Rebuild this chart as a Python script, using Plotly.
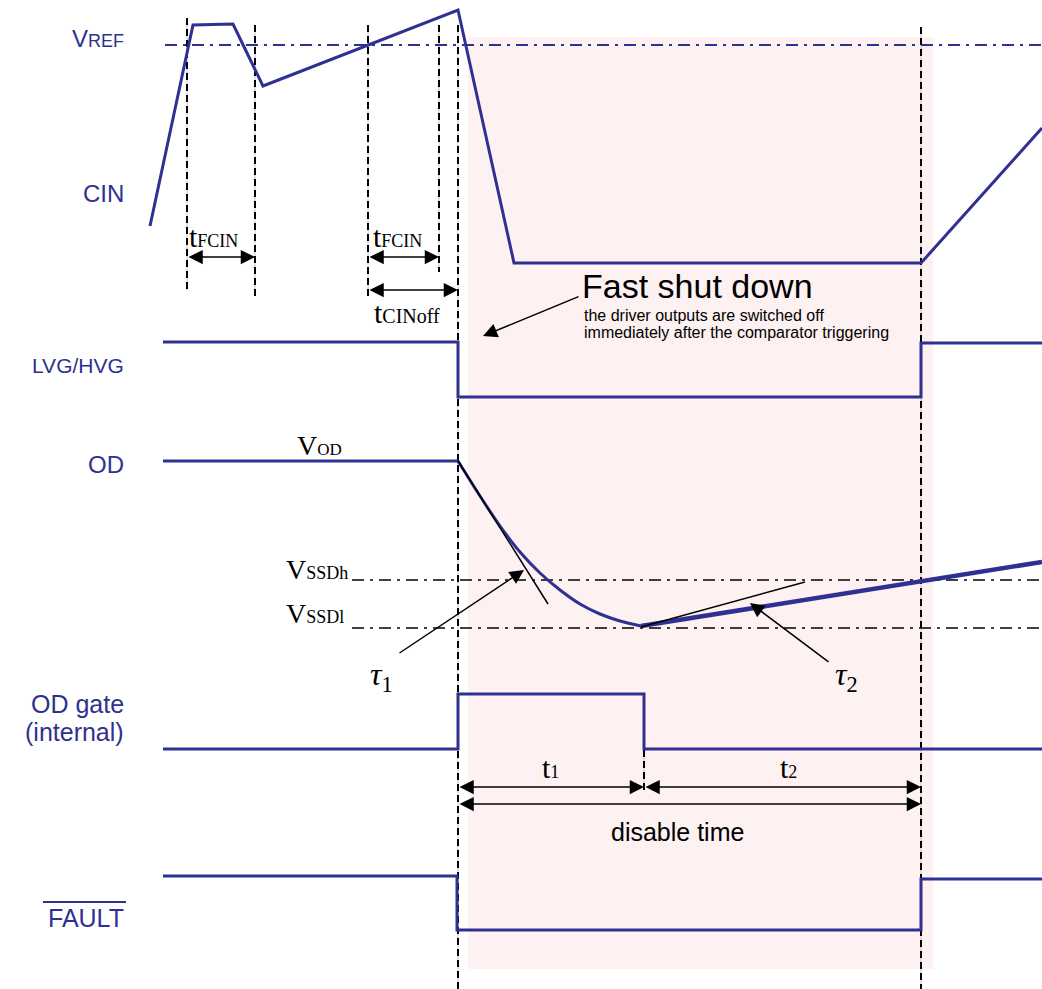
import plotly.graph_objects as go

# ---------------- data (diagram coordinates: x = time axis, y = level, screen units) -------------
BLUE = "#2e3192"

cin_t = [150, 193, 233, 263, 458, 514, 921, 1042]
cin_v = [226, 25, 24, 86, 10, 263, 263, 128]

vref_t = [165, 1042]
vref_v = [45, 45]

lvg_t = [163, 458, 458, 921, 921, 1042]
lvg_v = [342, 342, 397, 397, 343, 343]

od_flat_t = [163, 458]
od_flat_v = [461, 461]
od_fall_t = [458, 480, 500, 520, 540, 560, 580, 600, 620, 641]
od_fall_v = [461, 496, 526, 552, 573, 590, 604, 614, 621, 626]
od_rise_t = [641, 1042]
od_rise_v = [626, 562]

tau1_t = [458, 548]
tau1_v = [461, 604]
tau2_t = [641, 805]
tau2_v = [627, 582]

vssdh_t = [352, 1042]
vssdh_v = [580, 580]
vssdl_t = [352, 1042]
vssdl_v = [628, 628]

odgate_t = [163, 458, 458, 644, 644, 1042]
odgate_v = [749, 749, 694, 694, 749, 749]

fault_t = [163, 457, 457, 921, 921, 1042]
fault_v = [876, 876, 930, 930, 879, 879]

# dashed timing markers: (x, y_top, y_bottom)
marker_x = [187, 255, 368, 439, 458, 921, 644]
marker_top = [18, 25, 25, 25, 25, 27, 750]
marker_bot = [290, 296, 296, 272, 989, 989, 790]

# shaded disable window
shade_x = [468, 933]
shade_y = [37, 969]

# double-headed dimension arrows: (x_start, x_end, y)
dim_start = [187, 368, 368, 458, 644, 458]
dim_end = [255, 439, 458, 644, 921, 921]
dim_y = [257, 257, 290, 787, 787, 804]

# signal names
signal_names = ["V<span style='font-size:18px'>REF</span>", "CIN", "LVG/HVG", "OD",
                "OD gate", "(internal)", "FAULT"]
signal_y = [38, 193, 365, 464, 704, 732, 918]
signal_size = [24, 24, 21, 24, 25, 25, 25]

# ---------------- figure ----------------
fig = go.Figure()

fig.add_shape(type="rect", x0=shade_x[0], x1=shade_x[1], y0=shade_y[0], y1=shade_y[1],
              fillcolor="#fdf1f1", line_width=0, layer="below")

for x, y0, y1 in zip(marker_x, marker_top, marker_bot):
    fig.add_trace(go.Scatter(x=[x, x], y=[y0, y1], mode="lines",
                             line=dict(color="#c4c4e4", width=1), hoverinfo="skip"))
    fig.add_trace(go.Scatter(x=[x, x], y=[y0, y1], mode="lines",
                             line=dict(color="black", width=2, dash="7px,4px"), hoverinfo="skip"))

def line(t, v, color=BLUE, width=3, dash=None, shape="linear"):
    fig.add_trace(go.Scatter(x=t, y=v, mode="lines",
                             line=dict(color=color, width=width, dash=dash, shape=shape),
                             hoverinfo="skip"))

line(vref_t, vref_v, width=2, dash="12px,6px,3px,6px")
line(vssdh_t, vssdh_v, color="black", width=1.6, dash="12px,6px,3px,6px")
line(vssdl_t, vssdl_v, color="black", width=1.6, dash="12px,6px,3px,6px")
line(cin_t, cin_v)
line(lvg_t, lvg_v)
line(od_flat_t, od_flat_v)
line(od_fall_t, od_fall_v, shape="spline")
line(od_rise_t, od_rise_v, width=4.5)
line(tau1_t, tau1_v, color="black", width=1.5)
line(tau2_t, tau2_v, color="black", width=1.5)
line(odgate_t, odgate_v)
line(fault_t, fault_v)

# FAULT overline
fig.add_shape(type="line", x0=43, x1=126, y0=902, y1=902, line=dict(color=BLUE, width=2))

SANS = "Liberation Sans, Arial, sans-serif"
SERIF = "Liberation Serif, Times New Roman, serif"

for txt, y, s in zip(signal_names, signal_y, signal_size):
    fig.add_annotation(x=126, y=y, text=txt, showarrow=False, xanchor="right", yanchor="middle",
                       font=dict(family=SANS, size=s, color=BLUE))

# dimension arrows
for xs, xe, y in zip(dim_start, dim_end, dim_y):
    fig.add_annotation(x=xe, y=y, ax=xs, ay=y, axref="x", ayref="y", xref="x", yref="y",
                       text="", showarrow=True, arrowside="end+start", arrowhead=2,
                       arrowsize=1.9, arrowwidth=1.5, arrowcolor="black")

# pointer arrows (tail -> head)
pointers = [((580, 296), (483, 336)), ((398, 654), (524, 570)), ((830, 663), (750, 603))]
for (tx, ty), (hx, hy) in pointers:
    fig.add_annotation(x=hx, y=hy, ax=tx, ay=ty, axref="x", ayref="y", xref="x", yref="y",
                       text="", showarrow=True, arrowhead=2, arrowsize=1.9, arrowwidth=1.5,
                       arrowcolor="black")

def serif(x, y, txt, size=30, anchor="left"):
    fig.add_annotation(x=x, y=y, text=txt, showarrow=False, xanchor=anchor, yanchor="middle",
                       font=dict(family=SERIF, size=size, color="black"))

small = "<span style='font-size:18px'>%s</span>"
serif(187, 236, "t" + small % "FCIN")
serif(371, 236, "t" + small % "FCIN")
serif(372, 312, "t<span style='font-size:20px'>CINoff</span>")
serif(295, 445, "V" + "<span style='font-size:17px'>OD</span>", size=28)
serif(284, 569, "V" + small % "SSDh", size=28)
serif(284, 613, "V" + small % "SSDl", size=28)
serif(540, 767, "t" + small % "1")
serif(778, 767, "t" + small % "2")
serif(368, 676, "<i>τ</i><sub>1</sub>", size=32)
serif(833, 676, "<i>τ</i><sub>2</sub>", size=32)

fig.add_annotation(x=580, y=286, text="Fast shut down", showarrow=False, xanchor="left",
                   yanchor="middle", font=dict(family=SANS, size=34, color="black"))
fig.add_annotation(x=582, y=315, text="the driver outputs are switched off", showarrow=False,
                   xanchor="left", yanchor="middle", font=dict(family=SANS, size=16, color="black"))
fig.add_annotation(x=582, y=332, text="immediately after the comparator triggering",
                   showarrow=False, xanchor="left", yanchor="middle",
                   font=dict(family=SANS, size=16, color="black"))
fig.add_annotation(x=677, y=832, text="disable time", showarrow=False, xanchor="center",
                   yanchor="middle", font=dict(family=SANS, size=25, color="black"))

fig.update_layout(width=1042, height=989, autosize=False,
                  margin=dict(l=0, r=0, t=0, b=0),
                  paper_bgcolor="white", plot_bgcolor="white", showlegend=False,
                  xaxis=dict(range=[0, 1042], visible=False, fixedrange=True),
                  yaxis=dict(range=[989, 0], visible=False, fixedrange=True))

fig.write_html("out.html", config={"displayModeBar": False},
               post_script="document.body.style.margin='0';document.body.style.overflow='hidden';")
